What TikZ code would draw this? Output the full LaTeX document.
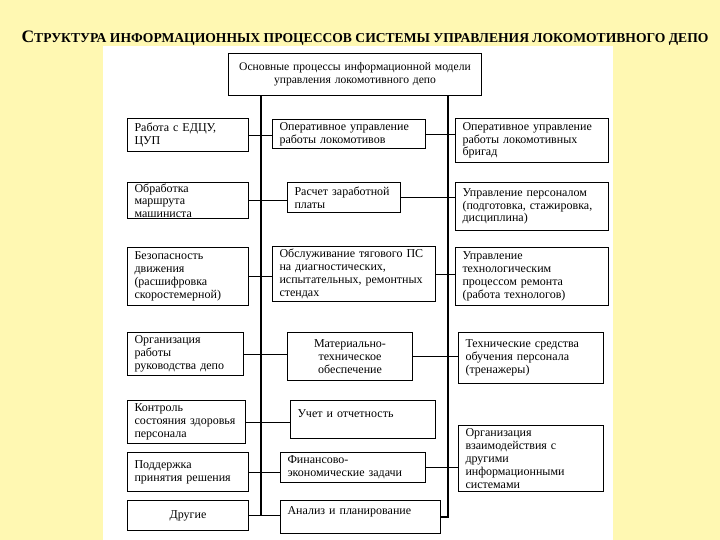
\documentclass[tikz,border=0pt]{standalone}
\usepackage{fontspec}
\setmainfont{Liberation Serif}
\definecolor{slidebg}{RGB}{255,248,178}

\begin{document}
\begin{tikzpicture}[x=1pt,y=-1pt]
\tikzset{
  bx/.style={draw=black,line width=1pt,fill=white,anchor=north west,align=left,inner xsep=7pt,inner ysep=1pt,font=\fontsize{12}{12.8}\selectfont},
  sz/.style 2 args={minimum width=#1pt,minimum height=#2pt,text width=#1pt-14pt},
  ln/.style={line width=0.8pt,draw=black},
  sp/.style={line width=1.1pt,draw=black}
}
\fill[slidebg] (0,0) rectangle (720,540);
\useasboundingbox (0,0) rectangle (720,540);
\fill[white] (103,46) rectangle (613,540);
\node[font=\bfseries] (title) at (365,38) {{\fontsize{17.5}{18}\selectfont С}{\fontsize{13.6}{14}\selectfont ТРУКТУРА ИНФОРМАЦИОННЫХ ПРОЦЕССОВ СИСТЕМЫ УПРАВЛЕНИЯ ЛОКОМОТИВНОГО ДЕПО}};
% top box
\node[bx,sz={253}{42},align=center,font=\fontsize{11.6}{12.6}\selectfont] (top) at (228,53) {Основные процессы информационной модели\\ управления локомотивного депо};
% row 1
\node[bx,sz={121}{33}] (r1l) at (127,118) {Работа с ЕДЦУ,\\ ЦУП};
\node[bx,sz={153}{29}] (r1m) at (272,119) {Оперативное управление\\ работы локомотивов};
\node[bx,sz={153}{44}] (r1r) at (455,118) {Оперативное управление\\ работы локомотивных\\ бригад};
% row 2
\node[bx,sz={121}{36}] (r2l) at (127,182) {Обработка\\ маршрута\\ машиниста};
\node[bx,sz={113}{30}] (r2m) at (287,182) {Расчет заработной\\ платы};
\node[bx,sz={153}{48}] (r2r) at (455,182) {Управление персоналом\\ (подготовка,~стажировка,\\ дисциплина)};
% row 3
\node[bx,sz={121}{58}] (r3l) at (127,247) {Безопасность\\ движения\\ (расшифровка\\ скоростемерной)};
\node[bx,sz={163}{55}] (r3m) at (272,246) {Обслуживание тягового ПС\\ на диагностических,\\ испытательных,~ремонтных\\ стендах};
\node[bx,sz={153}{58}] (r3r) at (455,247) {Управление\\ технологическим\\ процессом ремонта\\ (работа технологов)};
% row 4
\node[bx,sz={116}{43}] (r4l) at (127,332) {Организация\\ работы\\ руководства~депо};
\node[bx,sz={125}{48},align=center] (r4m) at (287,332) {Материально-\\ техническое\\ обеспечение};
\node[bx,sz={145}{51}] (r4r) at (458,332) {Технические средства\\ обучения персонала\\ (тренажеры)};
% row 5
\node[bx,sz={118}{43}] (r5l) at (127,400) {Контроль\\ состояния~здоровья\\ персонала};
\node[bx,sz={145}{38}] (r5m) at (290,400) {Учет и отчетность\\ \mbox{}};
\node[bx,sz={145}{66}] (r5r) at (458,425) {Организация\\ взаимодействия с\\ другими\\ информационными\\ системами};
% row 6
\node[bx,sz={121}{39}] (r6l) at (127,452) {Поддержка\\ принятия~решения};
\node[bx,sz={145}{30}] (r6m) at (280,452) {Финансово-\\ экономические~задачи};
% row 7
\node[bx,sz={121}{30},align=center] (r7l) at (127,500) {Другие};
\node[bx,sz={160}{33}] (r7m) at (280,500) {Анализ и планирование\\ \mbox{}};
% spines
\coordinate (spl) at (261,0);
\coordinate (spr) at (448,0);
\draw[sp] (top.south -| spl) -- (spl |- r7l.east);
\draw[sp] (top.south -| spr) |- (r7m.east);
\foreach \a/\b in {r1l/r1m,r1m/r1r,r2l/r2m,r2m/r2r,r3l/r3m,r3m/r3r,r4l/r4m,r4m/r4r,r5l/r5m,r6l/r6m,r6m/r5r,r7l/r7m}{\draw[ln] (\a.east) -- (\a.east -| \b.west);}
\end{tikzpicture}
\end{document}
